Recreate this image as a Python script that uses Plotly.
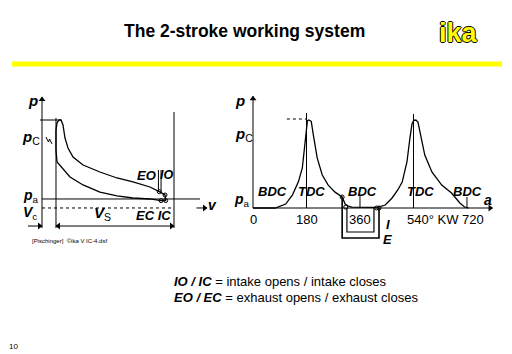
import plotly.graph_objects as go

FONT = "Liberation Sans, Arial, sans-serif"

# ---------------- Left: p-V diagram (V: fraction of total volume, p: pa=0, pC=1)
VC = 0.106          # clearance volume
VTOT = 1.0          # Vc + Vs
pv_V = [0.902, 0.818, 0.689, 0.568, 0.439, 0.311, 0.212, 0.152, 0.114, 0.106, 0.106,
        0.114, 0.129, 0.144, 0.159, 0.174, 0.197, 0.235, 0.311, 0.439, 0.568, 0.689,
        0.818, 0.888, 0.932, 0.937, 0.902]
pv_p = [0.005, 0.025, 0.037, 0.062, 0.111, 0.198, 0.296, 0.407, 0.481, 0.63, 0.877,
        0.963, 1.0, 1.0, 0.938, 0.778, 0.654, 0.543, 0.444, 0.358, 0.284, 0.235,
        0.173, 0.115, 0.074, 0.005, 0.005]
valve_V = [0.888, 0.932, 0.937, 0.902]
valve_p = [0.115, 0.074, 0.005, 0.005]
EO_V, IO_V = 0.882, 0.902
spark_V = [0.030, 0.049, 0.057, 0.076]
spark_p = [0.790, 0.728, 0.765, 0.704]

# ---------------- Right: p over crank angle
deg = [0, 75, 110, 133, 153, 166, 176, 180, 183, 188, 196, 203, 210, 216, 233, 253, 276,
       293, 300, 310, 323, 333, 360, 408, 422, 445, 468, 487, 502, 518, 528, 535, 541,
       548, 555, 562, 568, 578, 602, 635, 668, 682, 696, 712, 725]
p_deg = [0, 0, 0.045, 0.15, 0.3, 0.455, 0.77, 0.93, 0.99, 1.0, 0.985, 0.83, 0.66, 0.57,
         0.375, 0.26, 0.18, 0.148, 0.125, 0.045, 0.017, 0.011, 0.008, 0.006, 0.011,
         0.034, 0.114, 0.205, 0.295, 0.523, 0.795, 0.955, 0.995, 1.0, 0.977, 0.864,
         0.773, 0.602, 0.409, 0.261, 0.17, 0.114, 0.057, 0.011, 0.0]
EO, IO, IC, EC = 300, 316, 407, 424
circ_deg = [300, 312, 416, 424]
circ_p = [0.125, 0.01, 0.0, 0.0]
tick_vals = [0, 180, 360]
tick_text = ["0", "180", "360"]
dead_centres = [(64, "BDC"), (198, "TDC"), (367, "BDC"), (565, "TDC"), (723, "BDC")]

# pixel sizes of one data unit (for arrow-head offsets)
LPX_X, LPX_Y = 132, 81          # left: px per V unit, px per p unit
RPX_X, RPX_Y = 0.2972, 88       # right: px per degree, px per p unit

fig = go.Figure()
ln = dict(color="black", width=1.3)
fig.add_trace(go.Scatter(x=pv_V, y=pv_p, mode="lines", line=ln, xaxis="x", yaxis="y",
                         hoverinfo="skip"))
fig.add_trace(go.Scatter(x=valve_V, y=valve_p, mode="markers", xaxis="x", yaxis="y",
                         marker=dict(symbol="circle-open", size=4, color="black",
                                     line=dict(width=1)), hoverinfo="skip"))
fig.add_trace(go.Scatter(x=spark_V, y=spark_p, mode="lines", line=dict(color="black", width=1),
                         xaxis="x", yaxis="y", hoverinfo="skip"))
fig.add_trace(go.Scatter(x=deg, y=p_deg, mode="lines", line=ln, xaxis="x2", yaxis="y2",
                         hoverinfo="skip"))
fig.add_trace(go.Scatter(x=circ_deg, y=circ_p, mode="markers", xaxis="x2", yaxis="y2",
                         marker=dict(symbol="circle-open", size=4, color="black",
                                     line=dict(width=1)), hoverinfo="skip"))

shapes = []
def seg(x0, y0, x1, y1, ax="x", ay="y", w=1, dash="solid"):
    shapes.append(dict(type="line", x0=x0, y0=y0, x1=x1, y1=y1, xref=ax, yref=ay,
                       line=dict(color="black", width=w, dash=dash)))

heads = {"x": ([], [], []), "x2": ([], [], [])}
def arrow(x0, y0, x1, y1, ax="x", both=False):
    ay = "y" if ax == "x" else "y2"
    seg(x0, y0, x1, y1, ax, ay)
    px, py = (LPX_X, LPX_Y) if ax == "x" else (RPX_X, RPX_Y)
    def head(xa, ya, xb, yb):
        if xa == xb:
            sym = "triangle-up" if yb > ya else "triangle-down"
            hx, hy = xb, yb - (2.5 / py if yb > ya else -2.5 / py)
        else:
            sym = "triangle-right" if xb > xa else "triangle-left"
            hx, hy = xb - (2.5 / px if xb > xa else -2.5 / px), yb
        heads[ax][0].append(hx); heads[ax][1].append(hy); heads[ax][2].append(sym)
    head(x0, y0, x1, y1)
    if both:
        head(x1, y1, x0, y0)

# left guides
seg(VC, -0.333, VC, 1.025)
seg(VTOT, -0.333, VTOT, 1.099)
seg(-0.015, 1.0, 0.144, 1.0)
seg(0, 0.025, 1.197, 0.025)
seg(0, -0.086, VTOT, -0.086, dash="dot")
seg(EO_V, 0.115, EO_V, 0.383)
seg(IO_V, 0.10, IO_V, 0.383)
arrow(0, -0.333, 0, 1.284)
arrow(1.17, -0.086, 1.25, -0.086)
arrow(-0.106, -0.309, 0, -0.309)
arrow(VC, -0.309, VTOT, -0.309, both=True)
# right guides
seg(180, 0, 180, 1.08, "x2", "y2")
seg(540, 0, 540, 1.068, "x2", "y2")
seg(360, 0, 360, 0.136, "x2", "y2")
seg(720, 0, 720, 0.125, "x2", "y2")
seg(114, 1.011, 180, 1.011, "x2", "y2", dash="dot")
arrow(0, 0, 0, 1.27, "x2")
arrow(0, 0, 806, 0, "x2")
shapes.append(dict(type="path", xref="x2", yref="y2", line=dict(color="black", width=1.2),
                   path=f"M {IO},0 L {IO},-0.273 L {IC},-0.273 L {IC},0"))
shapes.append(dict(type="path", xref="x2", yref="y2", line=dict(color="black", width=1.6),
                   path=f"M {EO},0.125 L {EO},-0.341 L {EC},-0.341 L {EC},0"))
# yellow rule
shapes.append(dict(type="line", xref="paper", yref="paper", x0=12/512, x1=502/512,
                   y0=1-64/354, y1=1-64/354, line=dict(color="#FFFF00", width=5)))

for ax, ay in (("x", "y"), ("x2", "y2")):
    hx, hy, hs = heads[ax]
    fig.add_trace(go.Scatter(x=hx, y=hy, mode="markers", xaxis=ax, yaxis=ay,
                             marker=dict(symbol=hs, size=6, color="black", line=dict(width=0)),
                             hoverinfo="skip"))

ann = []
def lab(text, x, y, ax="x", ay="y", size=13, bi=True, xanchor="center", color="black", **kw):
    t = f"<b><i>{text}</i></b>" if bi else text
    ann.append(dict(text=t, x=x, y=y, xref=ax, yref=ay, showarrow=False, xanchor=xanchor,
                    yanchor="middle", font=dict(family=FONT, size=size, color=color, **kw)))

# left labels
lab("p", -0.068, 1.235, size=15)
lab("<b><i>p</i></b><sub>C</sub>", -0.083, 0.79, size=15, bi=False)
lab("<b><i>p</i></b><sub>a</sub>", -0.083, 0.06, size=14, bi=False)
lab("<b><i>V</i></b><sub>c</sub>", -0.091, -0.15, size=14, bi=False)
lab("<b><i>V</i></b><sub>S</sub>", 0.462, -0.16, size=15, bi=False)
lab("EO", 0.792, 0.321)
lab("IO", 0.945, 0.321, size=12.5)
lab("EC IC", 0.841, -0.173)
lab("v", 1.288, -0.049, size=14)
# right labels
lab("p", -43.7, 1.227, "x2", "y2", size=15)
lab("<b><i>p</i></b><sub>C</sub>", -30, 0.84, "x2", "y2", size=15, bi=False)
lab("<b><i>p</i></b><sub>a</sub>", -38, 0.09, "x2", "y2", size=14, bi=False)
for v, t in zip(tick_vals, tick_text):
    lab(t, v, -0.136, "x2", "y2", bi=False)
lab("540° KW 720", 511, -0.136, "x2", "y2", bi=False, xanchor="left")
for d, t in dead_centres:
    lab(t, d, 0.182, "x2", "y2")
lab("a", 791, 0.09, "x2", "y2", size=14)
lab("I", 454, -0.19, "x2", "y2", size=13)
lab("E", 451, -0.36, "x2", "y2", size=13)

# page texts
def ptxt(text, x, y, size, xanchor="center", color="black", **kw):
    ann.append(dict(text=text, x=x/512, y=1-y/354, xref="paper", yref="paper",
                    showarrow=False, xanchor=xanchor, yanchor="middle",
                    font=dict(family=FONT, size=size, color=color, **kw)))
ptxt("<b>The 2-stroke working system</b>", 244, 31, 17.5)
ptxt("<b>ika</b>", 458, 33, 27, color="#FFFF00",
     shadow="1px 0 0 #000, -1px 0 0 #000, 0 1px 0 #000, 0 -1px 0 #000")
ptxt("[Pischinger]  ©ika V IC-4.dsf", 30, 241, 6, xanchor="left")
ptxt("<b><i>IO / IC</i></b> = intake opens / intake closes", 172, 281, 13, xanchor="left")
ptxt("<b><i>EO / EC</i></b> = exhaust opens / exhaust closes", 172, 297, 13, xanchor="left")
ptxt("10", 13, 346, 8)

noax = dict(visible=False, showgrid=False, zeroline=False, fixedrange=True)
fig.update_layout(
    width=512, height=354, margin=dict(l=0, r=0, t=0, b=0),
    paper_bgcolor="white", plot_bgcolor="rgba(0,0,0,0)", showlegend=False,
    xaxis=dict(domain=[20/512, 215/512], range=[-22/132, 173/132], **noax),
    yaxis=dict(domain=[1-245/354, 1-95/354], range=[-44/81, 106/81], **noax),
    xaxis2=dict(domain=[230/512, 505/512], range=[-23/0.2972, 252/0.2972], anchor="y2", **noax),
    yaxis2=dict(domain=[1-250/354, 1-92/354], range=[-42/88, 116/88], anchor="x2", **noax),
    shapes=shapes, annotations=ann,
)
fig.write_html("out.html")
